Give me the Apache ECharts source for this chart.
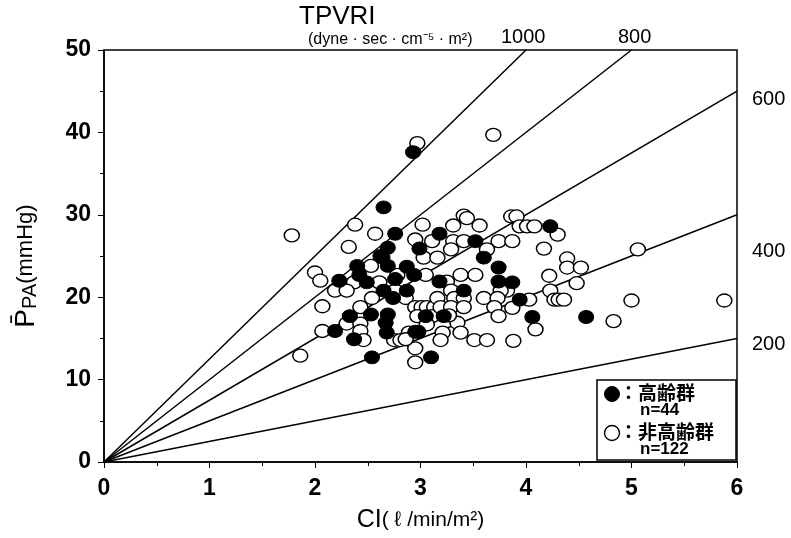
<!DOCTYPE html>
<html><head><meta charset="utf-8">
<script src="https://cdn.jsdelivr.net/npm/echarts@6/dist/echarts.min.js"></script>
<style>html,body{margin:0;padding:0;background:#fff}#c{width:791px;height:538px}</style>
</head><body><div id="c"></div>
<script>
// Elderly group (filled) [CI, mean PPA]
const elderly = [
[2.93,37.6],[2.65,30.9],[2.76,27.7],[3.18,27.7],[2.69,26.0],[2.99,25.9],[3.52,26.8],[4.23,28.6],
[2.64,24.8],[2.62,25.0],[3.60,24.8],[2.40,23.8],[2.69,23.8],[2.87,23.7],[3.74,23.6],[2.42,22.7],
[2.94,22.7],[2.76,22.2],[2.23,22.0],[2.49,21.8],[3.18,21.9],[3.74,21.9],[3.87,21.8],[2.65,20.8],
[2.87,20.8],[3.41,20.8],[2.74,19.9],[3.94,19.7],[2.33,17.7],[2.53,17.9],[2.69,17.9],[2.67,16.9],
[3.05,17.7],[3.22,17.7],[4.06,17.6],[4.57,17.6],[2.68,15.7],[2.95,15.8],[2.98,15.8],[2.19,15.9],
[2.37,14.9],[2.54,12.7],[3.10,12.7]
];
// Non-elderly group (open)
const nonElderly = [
[2.97,38.7],[3.69,39.7],[1.78,27.5],[2.38,28.8],[3.02,28.8],[2.57,27.7],[2.32,26.1],[3.41,29.9],
[3.44,29.6],[3.86,29.8],[3.91,29.8],[3.31,28.7],[3.56,28.7],[3.94,28.6],[4.01,28.6],[4.08,28.6],
[4.30,27.6],[2.95,27.0],[3.11,26.8],[3.31,26.8],[3.41,26.8],[3.74,26.8],[3.87,26.8],[4.17,25.9],
[5.06,25.8],[4.39,24.7],[4.39,23.6],[4.52,23.6],[4.22,22.6],[4.48,21.7],[4.23,20.8],[4.03,19.7],
[4.27,19.7],[4.31,19.7],[4.36,19.7],[5.00,19.6],[5.88,19.6],[4.83,17.1],[4.09,16.1],[3.03,24.8],
[3.16,24.8],[2.53,23.8],[2.00,23.0],[2.05,22.0],[2.78,22.7],[3.05,22.7],[2.37,21.8],[2.61,21.8],
[2.19,20.8],[2.30,20.8],[2.76,20.8],[2.54,19.9],[2.86,19.9],[2.43,18.8],[2.07,18.9],[2.95,18.8],
[3.01,18.8],[3.06,18.8],[3.13,18.8],[2.30,16.8],[2.43,16.8],[2.97,17.7],[3.11,17.7],[3.06,16.7],
[2.07,15.9],[2.43,15.9],[2.75,14.8],[2.81,14.8],[2.46,14.8],[2.89,15.7],[2.95,13.8],[1.86,12.9],
[2.95,12.1],[3.29,25.8],[3.63,25.8],[3.38,22.7],[3.52,22.7],[3.25,21.9],[3.29,20.8],[3.82,20.8],
[3.76,20.8],[3.16,19.9],[3.32,19.9],[3.41,19.9],[3.60,19.9],[3.73,19.9],[3.19,18.8],[3.29,18.8],
[3.41,18.8],[3.70,18.8],[3.87,18.7],[3.35,16.9],[3.74,17.7],[3.21,15.7],[3.38,15.7],[3.51,14.8],
[3.63,14.8],[3.88,14.7],[3.19,14.8],[2.86,14.9],[3.27,17.8]
];
// TPVRI iso-lines (dyne·sec·cm-5·m2); PPA = TPVRI * CI / 80
const tpvriLevels = [200, 400, 600, 800, 1000];
const xTicks = [0,1,2,3,4,5,6];
const yTicks = [0,10,20,30,40,50];
const X_MAX = 6, Y_MAX = 50;

const lineSeries = tpvriLevels.map(v => {
  const slope = v / 80;
  const xEnd = Math.min(X_MAX, Y_MAX / slope);
  return {
    type: 'line', data: [[0,0],[xEnd, xEnd*slope]], symbol: 'none', silent: true,
    lineStyle: {color:'#000', width:1.5}, z: 2, animation:false
  };
});

const chart = echarts.init(document.getElementById('c'), null, {renderer:'canvas'});
const FONT = 'Liberation Sans';
const LBL = {fontFamily:FONT, fontSize:23, fontWeight:'bold', color:'#000'};
chart.setOption({
  animation: false,
  backgroundColor: '#fff',
  grid: {left:104, right:54, top:50, bottom:72, show:true, borderColor:'#000', borderWidth:1.5, backgroundColor:'transparent'},
  xAxis: {
    type:'value', min:0, max:X_MAX, interval:1,
    axisLine:{onZero:false, lineStyle:{color:'#000', width:1.5}},
    axisTick:{show:true, inside:false, length:6, lineStyle:{color:'#000'}},
    minorTick:{show:true, splitNumber:2, length:4, lineStyle:{color:'#000'}},
    splitLine:{show:false},
    axisLabel:Object.assign({margin:15, formatter: v => xTicks.includes(v) ? String(v) : ''}, LBL),
    name:'{a|CI}{b|( ℓ /min/m²)}', nameLocation:'middle', nameGap:46,
    nameTextStyle:{fontFamily:FONT, color:'#000', rich:{a:{fontSize:25, fontFamily:FONT, color:'#000'}, b:{fontSize:21, fontFamily:FONT, color:'#000'}}}
  },
  yAxis: {
    type:'value', min:0, max:Y_MAX, interval:10,
    axisLine:{lineStyle:{color:'#000', width:1.5}},
    axisTick:{show:true, inside:false, length:6, lineStyle:{color:'#000'}},
    minorTick:{show:true, splitNumber:2, length:4, lineStyle:{color:'#000'}},
    splitLine:{show:false},
    axisLabel:Object.assign({margin:13, formatter: v => yTicks.includes(v) ? String(v) : ''}, LBL),
    name:'{a|P\u0304}{b|PA}{c|(mmHg)}', nameLocation:'middle', nameGap:64,
    nameTextStyle:{fontFamily:FONT, color:'#000', rich:{a:{fontSize:28, fontFamily:FONT, color:'#000'}, b:{fontSize:20, fontFamily:FONT, color:'#000', padding:[8,0,0,0]}, c:{fontSize:22, fontFamily:FONT, color:'#000', padding:[0,20,0,0]}}}
  },
  series: [
    ...lineSeries,
    {name:'非高齢群', type:'scatter', data: nonElderly, symbol:'circle', symbolSize:[15,13],
     itemStyle:{color:'#fff', borderColor:'#000', borderWidth:1.4, opacity:1}, z:3},
    {name:'高齢群', type:'scatter', data: elderly, symbol:'circle', symbolSize:[15,13],
     itemStyle:{color:'#000', borderColor:'#000', borderWidth:1, opacity:1}, z:4}
  ],
  graphic: [
    {type:'text', left:299, top:4, style:{text:'TPVRI', font:'26px "Liberation Sans"', fill:'#000'}},
    {type:'text', left:308, top:32, style:{text:'(dyne · sec · cm⁻⁵ · m²)', font:'16px "Liberation Sans"', fill:'#000'}},
    {type:'text', left:501, top:27, style:{text:'1000', font:'20px "Liberation Sans"', fill:'#000'}},
    {type:'text', left:618, top:27, style:{text:'800', font:'20px "Liberation Sans"', fill:'#000'}},
    {type:'text', left:752, top:89, style:{text:'600', font:'20px "Liberation Sans"', fill:'#000'}},
    {type:'text', left:752, top:241, style:{text:'400', font:'20px "Liberation Sans"', fill:'#000'}},
    {type:'text', left:752, top:334, style:{text:'200', font:'20px "Liberation Sans"', fill:'#000'}},
    {type:'rect', shape:{x:597, y:380, width:139, height:80}, style:{fill:'#fff', stroke:'#000', lineWidth:1.5}, z:10},
    {type:'circle', shape:{cx:612, cy:394, r:7.5}, style:{fill:'#000', stroke:'#000'}, z:11},
    {type:'text', left:619, top:383, style:{text:'：高齢群', font:'bold 19px "Noto Sans CJK JP"', fill:'#000'}, z:11},
    {type:'text', left:640, top:402, style:{text:'n=44', font:'bold 17px "Liberation Sans"', fill:'#000'}, z:11},
    {type:'circle', shape:{cx:612, cy:433, r:7.5}, style:{fill:'#fff', stroke:'#000', lineWidth:1.4}, z:11},
    {type:'text', left:619, top:422, style:{text:'：非高齢群', font:'bold 19px "Noto Sans CJK JP"', fill:'#000'}, z:11},
    {type:'text', left:640, top:441, style:{text:'n=122', font:'bold 17px "Liberation Sans"', fill:'#000'}, z:11}
  ]
});
</script></body></html>
